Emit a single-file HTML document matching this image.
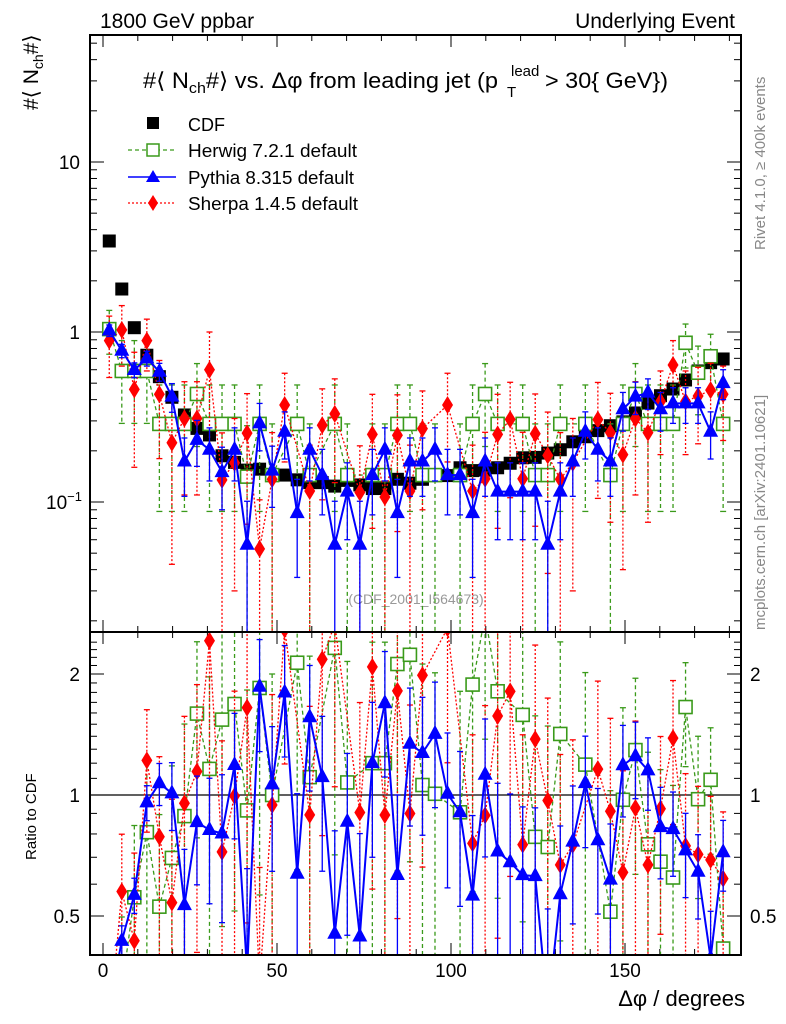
<!DOCTYPE html>
<html><head><meta charset="utf-8">
<style>
html,body{margin:0;padding:0;background:#fff;overflow:hidden;width:786px;height:1024px;}
svg{display:block;font-family:"Liberation Sans",Arial,sans-serif;overflow:hidden;}
</style></head>
<body>
<svg id="chart" width="786" height="1024" viewBox="0 0 786 1024" xmlns="http://www.w3.org/2000/svg">
<text x="100" y="28" font-size="21">1800 GeV ppbar</text>
<text x="735" y="28" font-size="21" text-anchor="end">Underlying Event</text>
<text transform="translate(38,110) rotate(-90)" font-size="21">#⟨ N<tspan font-size="14" dy="5">ch</tspan><tspan dy="-5">#⟩</tspan></text>
<g font-size="22">
 <text x="143" y="88" textLength="355" lengthAdjust="spacingAndGlyphs">#⟨ N<tspan font-size="15" dy="5">ch</tspan><tspan dy="-5">#⟩ vs. Δφ from leading jet  (p</tspan></text>
 <text x="511" y="76" font-size="15">lead</text>
 <text x="507" y="97" font-size="15">T</text>
 <text x="545" y="88" textLength="123" lengthAdjust="spacingAndGlyphs">&gt; 30{ GeV})</text>
</g>
<text transform="translate(765,250) rotate(-90)" font-size="15" fill="#888">Rivet 4.1.0, ≥ 400k events</text>
<text transform="translate(765,630) rotate(-90)" font-size="15" fill="#888">mcplots.cern.ch [arXiv:2401.10621]</text>
<text x="416" y="604" font-size="14" fill="#999" text-anchor="middle">(CDF_2001_I564673)</text>
<text transform="translate(36,860) rotate(-90)" font-size="15">Ratio to CDF</text>
<text x="745" y="1006" font-size="22" text-anchor="end">Δφ / degrees</text>
<g id="legend">
 <g><rect x="147" y="117" width="12" height="12" fill="#000"/><text x="188" y="131" font-size="18">CDF</text></g>
 <g><line x1="128" y1="150" x2="176" y2="150" stroke="#3a9a1a" stroke-width="1.3" stroke-dasharray="4,3"/><rect x="147" y="144" width="12" height="12" fill="#fff" stroke="#3a9a1a" stroke-width="1.5"/><text x="188" y="157" font-size="18" textLength="169" lengthAdjust="spacingAndGlyphs">Herwig 7.2.1 default</text></g>
 <g><line x1="128" y1="177" x2="176" y2="177" stroke="#0000ff" stroke-width="1.5"/><polygon points="153,170 160,182 146,182" fill="#0000ff"/><text x="188" y="184" font-size="18" textLength="166" lengthAdjust="spacingAndGlyphs">Pythia 8.315 default</text></g>
 <g><line x1="128" y1="203" x2="176" y2="203" stroke="#ff0000" stroke-width="1.3" stroke-dasharray="2,2"/><polygon points="153,195 158,203 153,211 148,203" fill="#ff0000"/><text x="188" y="210" font-size="18" textLength="170" lengthAdjust="spacingAndGlyphs">Sherpa 1.4.5 default</text></g>
</g>
<defs>
<clipPath id="clipTop"><rect x="90" y="35" width="651" height="597"/></clipPath>
<clipPath id="clipRat"><rect x="90" y="632" width="651" height="323"/></clipPath>
</defs>
<g id="axes"></g>
<g id="topMarks" clip-path="url(#clipTop)"></g>
<g id="ratMarks" clip-path="url(#clipRat)"></g>
<rect x="90" y="35" width="651" height="597" fill="none" stroke="#000" stroke-width="2"/>
<rect x="90" y="632" width="651" height="323" fill="none" stroke="#000" stroke-width="2"/>
</svg>
<script>
const binCenters = [1.8,5.4,9,12.6,16.2,19.8,23.4,27,30.6,34.2,37.8,41.4,45,48.6,52.2,55.8,59.4,63,66.6,70.2,73.8,77.4,81,84.6,88.2,91.8,95.4,99,102.6,106.2,109.8,113.4,117,120.6,124.2,127.8,131.4,135,138.6,142.2,145.8,149.4,153,156.6,160.2,163.8,167.4,171,174.6,178.2];
const cdfValues = [3.43,1.79,1.06,0.73,0.546,0.413,0.325,0.271,0.248,0.187,0.171,0.154,0.156,0.144,0.144,0.135,0.130,0.130,0.124,0.134,0.126,0.120,0.120,0.136,0.129,0.136,0.143,0.143,0.159,0.153,0.154,0.159,0.169,0.182,0.183,0.194,0.203,0.226,0.242,0.263,0.281,0.296,0.334,0.382,0.422,0.462,0.522,0.590,0.660,0.694];
const herwigValues = [1.04,0.59,0.59,0.59,0.288,0.288,0.288,0.432,0.288,0.288,0.288,0.141,0.288,0.144,null,0.288,0.144,null,0.288,0.144,null,0.144,0.144,0.288,0.288,0.144,0.144,null,0.144,0.288,0.432,0.288,null,0.288,0.144,0.144,0.288,null,0.288,null,0.144,0.288,0.432,0.288,0.288,0.288,0.864,0.576,0.72,0.288];
const herwigErrors = [0.3,0.3,0.3,0.3,0.2,0.2,0.2,0.22,0.2,0.2,0.2,0.14,0.2,0.144,0,0.2,0.144,0,0.2,0.144,0,0.144,0.144,0.2,0.2,0.144,0.144,0,0.144,0.2,0.22,0.2,0,0.2,0.144,0.144,0.2,0,0.2,0,0.144,0.2,0.22,0.2,0.2,0.2,0.25,0.25,0.25,0.2];
const pythiaValues = [1.02,0.776,0.598,0.70,0.584,0.417,0.173,0.232,0.203,0.15,0.203,0.056,0.29,0.153,0.259,0.086,0.203,0.144,0.056,0.115,0.056,0.144,0.203,0.086,0.173,0.173,0.203,0.144,0.144,0.086,0.173,0.115,0.115,0.115,0.115,0.056,0.115,0.173,0.259,0.203,0.173,0.351,0.417,0.44,0.351,0.38,0.38,0.38,0.259,0.50];
const pythiaErrors = [0.08,0.07,0.06,0.07,0.07,0.08,0.065,0.07,0.07,0.06,0.07,0.045,0.09,0.06,0.08,0.05,0.07,0.06,0.045,0.055,0.045,0.06,0.07,0.05,0.065,0.065,0.07,0.06,0.06,0.05,0.065,0.055,0.055,0.055,0.055,0.045,0.055,0.065,0.08,0.07,0.065,0.09,0.09,0.09,0.09,0.09,0.09,0.09,0.08,0.1];
const sherpaValues = [0.89,1.03,0.46,0.89,0.43,0.223,0.31,0.31,0.60,0.135,0.17,0.254,0.053,0.136,0.372,null,0.116,0.283,0.33,null,0.114,0.25,0.107,0.247,0.116,0.27,null,0.372,null,0.116,0.137,0.25,0.306,0.137,0.252,0.188,0.136,0.17,null,0.305,0.256,0.19,0.31,0.256,0.39,0.64,0.39,0.42,0.455,0.43];
const sherpaErrors = [0.35,0.4,0.3,0.3,0.25,0.18,0.2,0.2,0.4,0.12,0.14,0.18,0.05,0.12,0.2,0,0.1,0.18,0.2,0,0.1,0.18,0.1,0.18,0.1,0.18,0,0.2,0,0.1,0.12,0.18,0.2,0.12,0.18,0.15,0.12,0.14,0,0.2,0.18,0.15,0.2,0.18,0.2,0.25,0.2,0.2,0.2,0.2];
const xTicks = [0,50,100,150];
const ratioTicks = [0.5,1,2];

const NS = 'http://www.w3.org/2000/svg';
const X = d => 103 + 3.48 * d;
const YT = v => 332 - 170 * Math.log10(v);
const YR = r => 795 - 121 * Math.log2(r);
function mk(tag, attrs, parent){const e=document.createElementNS(NS,tag);for(const k in attrs)e.setAttribute(k,attrs[k]);parent.appendChild(e);return e;}
const axes = document.getElementById('axes');
for (let d=0; d<=180; d+=10){
  const big = d%50===0;
  const L = big?12:6;
  for (const [y0,dir] of [[632,-1],[35,1],[955,-1],[632,1]]){
    const t = mk('line',{x1:X(d),x2:X(d),y1:y0,y2:y0+dir*L,stroke:'#000','stroke-width':1},axes);
    
    
  }
}
xTicks.forEach(d=>{
  const t = mk('text',{x:X(d),y:977,'font-size':19,'text-anchor':'middle'},axes);
  
  
  t.textContent = d;
});
for (let e=-2;e<=1;e++){
  for (let m=1;m<=9;m++){
    const v = m*Math.pow(10,e);
    const y = YT(v);
    if (y<35||y>632) continue;
    const L = m===1?14:7;
    for (const [x0,dir] of [[90,1],[741,-1]]){
      const t = mk('line',{x1:x0,x2:x0+dir*L,y1:y,y2:y,stroke:'#000','stroke-width':1},axes);
      
      
    }
  }
}
[['10',10],['1',1]].forEach(([s,v])=>{
  const t = mk('text',{x:80,y:YT(v)+7,'font-size':19,'text-anchor':'end'},axes);
  
  
  t.textContent = s;
});
{
  const t = mk('text',{x:82,y:YT(0.1)+7,'font-size':19,'text-anchor':'end'},axes);
  
  
  t.innerHTML = '10<tspan font-size="13" dy="-8">−1</tspan>';
}
for (let r=0.4; r<=2.5; r+=0.1){
  const y = YR(r);
  if (y<632||y>955) continue;
  const big = Math.abs(r-0.5)<1e-6||Math.abs(r-1)<1e-6||Math.abs(r-2)<1e-6;
  const L = big?14:7;
  for (const [x0,dir] of [[90,1],[741,-1]]){
    const t = mk('line',{x1:x0,x2:x0+dir*L,y1:y,y2:y,stroke:'#000','stroke-width':1},axes);
    
    
  }
}
ratioTicks.forEach(r=>{
  const s = String(r);
  const a = mk('text',{x:80,y:YR(r)+7,'font-size':19,'text-anchor':'end'},axes);
  
  
  a.textContent = s;
  const b = mk('text',{x:750,y:YR(r)+7,'font-size':19},axes);
  
  
  b.textContent = s;
});
const unity = mk('line',{x1:90,x2:741,y1:YR(1),y2:YR(1),stroke:'#000','stroke-width':1.3},axes);



const topG = document.getElementById('topMarks');
const ratG = document.getElementById('ratMarks');
function clampT(v){return Math.max(v,1e-4);}
function drawSeries(vals, errs, color, dash, marker, name, g, Yf, ratio){
  const pts=[];
  vals.forEach((v,i)=>{
    if (v===null) return;
    const c = ratio? cdfValues[i] : 1;
    const val = v/c, er = errs[i]/c;
    const x = X(binCenters[i]);
    const y = Yf(val);
    const yTop = Yf(val+er), yBot = Yf(clampT(val-er));
    const eb = mk('line',{x1:x,x2:x,y1:yTop,y2:yBot,stroke:color,'stroke-width':1.3,'stroke-dasharray':dash},g);
    
    
    const cap1 = mk('line',{x1:x-3,x2:x+3,y1:yTop,y2:yTop,stroke:color,'stroke-width':1.3},g);
    
    
    const cap2 = mk('line',{x1:x-3,x2:x+3,y1:yBot,y2:yBot,stroke:color,'stroke-width':1.3},g);
    
    
    pts.push([x,y]);
  });
  const pl = mk('polyline',{points:pts.map(p=>p.join(',')).join(' '),fill:'none',stroke:color,'stroke-width':marker==='tri'?2:1.3,'stroke-dasharray':dash},g);
  
  
  pts.forEach(([x,y])=>{
    let m;
    if (marker==='sq') m = mk('rect',{x:x-6.5,y:y-6.5,width:13,height:13,fill:'#fff',stroke:color,'stroke-width':1.6},g);
    else if (marker==='tri') m = mk('polygon',{points:`${x},${y-9} ${x+7.5},${y+5} ${x-7.5},${y+5}`,fill:color},g);
    else m = mk('polygon',{points:`${x},${y-9} ${x+5.5},${y} ${x},${y+9} ${x-5.5},${y}`,fill:color},g);
    
    
  });
}
cdfValues.forEach((v,i)=>{
  const m = mk('rect',{x:X(binCenters[i])-6.5,y:YT(v)-6.5,width:13,height:13,fill:'#000'},topG);
  
  
});
drawSeries(herwigValues, herwigErrors, '#3a9a1a', '4,3', 'sq', 'herwig', topG, YT, false);
drawSeries(sherpaValues, sherpaErrors, '#ff0000', '2,2', 'dia', 'sherpa', topG, YT, false);
drawSeries(pythiaValues, pythiaErrors, '#0000ff', 'none', 'tri', 'pythia', topG, YT, false);
drawSeries(herwigValues, herwigErrors, '#3a9a1a', '4,3', 'sq', 'herwig-ratio', ratG, YR, true);
drawSeries(sherpaValues, sherpaErrors, '#ff0000', '2,2', 'dia', 'sherpa-ratio', ratG, YR, true);
drawSeries(pythiaValues, pythiaErrors, '#0000ff', 'none', 'tri', 'pythia-ratio', ratG, YR, true);
</script>
</body></html>
